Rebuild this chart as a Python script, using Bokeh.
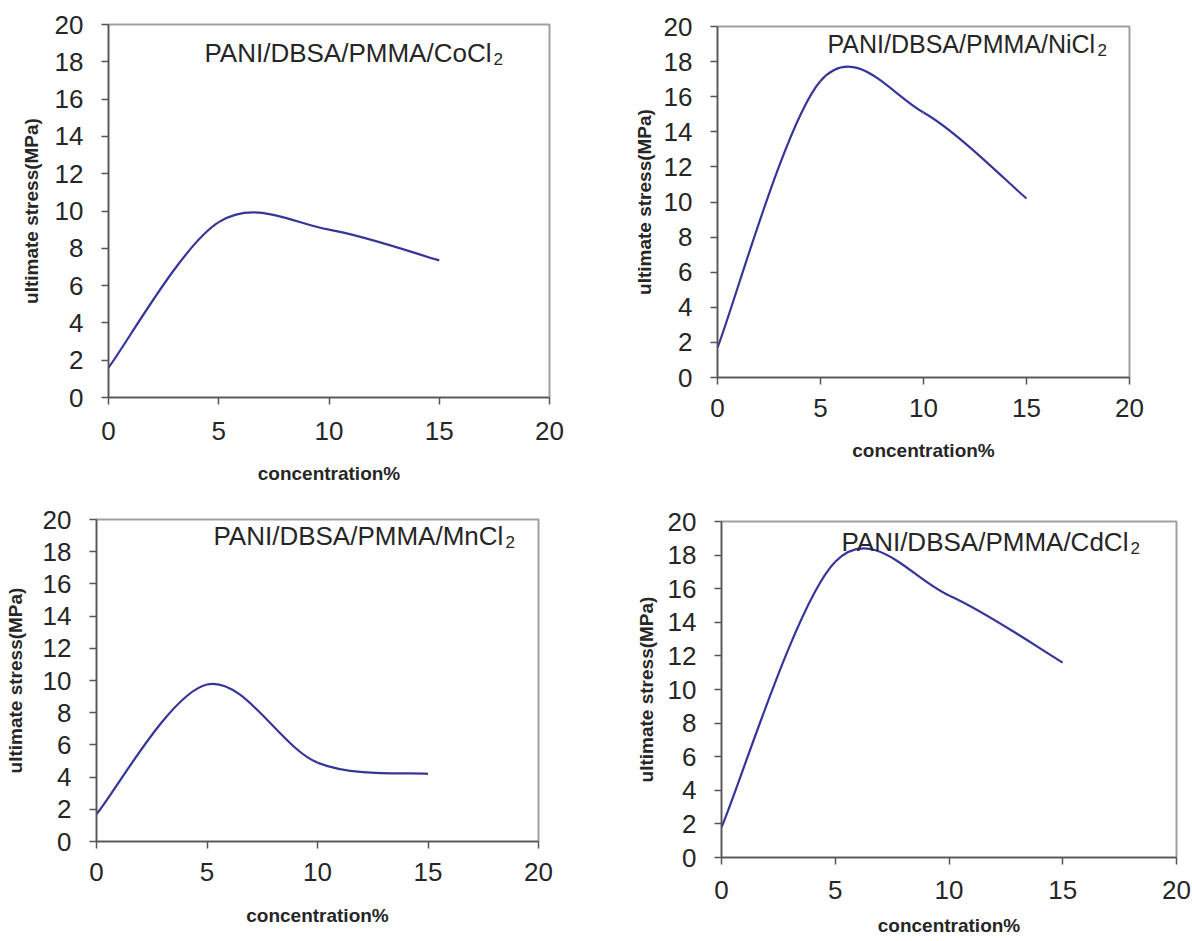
from bokeh.plotting import figure
from bokeh.layouts import column, row
from bokeh.models import Label, FixedTicker, Range1d, Spacer
from bokeh.embed import file_html
from bokeh.resources import INLINE

# ---- data ----
concentration = [0, 5, 10, 15]
stress_CoCl2 = [1.6, 9.4, 9.0, 7.35]
stress_NiCl2 = [1.7, 16.9, 15.1, 10.2]
stress_MnCl2 = [1.7, 9.75, 4.9, 4.2]
stress_CdCl2 = [1.8, 17.6, 15.6, 11.6]
x_ticks = [0, 5, 10, 15, 20]
y_ticks = [0, 2, 4, 6, 8, 10, 12, 14, 16, 18, 20]
titles = ["PANI/DBSA/PMMA/CoCl", "PANI/DBSA/PMMA/NiCl",
          "PANI/DBSA/PMMA/MnCl", "PANI/DBSA/PMMA/CdCl"]
subscript = "2"
x_label = "concentration%"
y_label = "ultimate stress(MPa)"

FONT = "Liberation Sans"
LINE = "#36369a"
TEXT = "#262626"


def smooth_segments(xs, ys):
    """Cubic Bezier segments through the points (Catmull-Rom style smoothing)."""
    px = [xs[0]] + list(xs) + [xs[-1]]
    py = [ys[0]] + list(ys) + [ys[-1]]
    seg = dict(x0=[], y0=[], x1=[], y1=[], cx0=[], cy0=[], cx1=[], cy1=[])
    for i in range(len(xs) - 1):
        a, b, c, d = i, i + 1, i + 2, i + 3
        seg["x0"].append(px[b]); seg["y0"].append(py[b])
        seg["x1"].append(px[c]); seg["y1"].append(py[c])
        seg["cx0"].append(px[b] + (px[c] - px[a]) / 6.0)
        seg["cy0"].append(py[b] + (py[c] - py[a]) / 6.0)
        seg["cx1"].append(px[c] - (px[d] - px[b]) / 6.0)
        seg["cy1"].append(py[c] - (py[d] - py[b]) / 6.0)
    return seg


def make_panel(ys, title, width, height, left, right, top, bottom,
               title_pos, title_size, title_w, xtick_standoff, ylab_standoff,
               xlab_standoff):
    p = figure(width=width, height=height,
               x_range=Range1d(0, 20), y_range=Range1d(0, 20),
               output_backend="svg", toolbar_location=None,
               min_border_left=left, min_border_right=right,
               min_border_top=top, min_border_bottom=bottom,
               background_fill_color="white", border_fill_color="white")
    p.grid.visible = False
    p.outline_line_color = "#a0a0a0"
    p.outline_line_width = 2

    for ax in (p.xaxis, p.yaxis):
        ax.minor_tick_line_color = None
        ax.major_tick_in = 0
        ax.major_tick_out = 7
        ax.axis_line_color = "#555555"
        ax.axis_line_width = 1.5
        ax.major_tick_line_color = "#555555"
        ax.major_tick_line_width = 1.5
        ax.major_label_text_font = FONT
        ax.major_label_text_font_size = "26px"
        ax.major_label_text_color = TEXT
        ax.axis_label_text_font = FONT
        ax.axis_label_text_font_style = "bold"
        ax.axis_label_text_color = TEXT
    p.xaxis.ticker = FixedTicker(ticks=x_ticks)
    p.yaxis.ticker = FixedTicker(ticks=y_ticks)
    p.xaxis.major_label_standoff = xtick_standoff
    p.yaxis.major_label_standoff = 18
    p.xaxis.axis_label = x_label
    p.yaxis.axis_label = y_label
    p.xaxis.axis_label_text_font_size = "19px"
    p.yaxis.axis_label_text_font_size = "19px"
    p.xaxis.axis_label_standoff = xlab_standoff
    p.yaxis.axis_label_standoff = ylab_standoff

    seg = smooth_segments(concentration, ys)
    p.bezier(x0=seg["x0"], y0=seg["y0"], x1=seg["x1"], y1=seg["y1"],
             cx0=seg["cx0"], cy0=seg["cy0"], cx1=seg["cx1"], cy1=seg["cy1"],
             line_color=LINE, line_width=2.2)

    tx, ty = title_pos
    p.add_layout(Label(x=tx, y=ty, text=title, text_font=FONT,
                       text_font_size=title_size, text_color=TEXT,
                       text_align="left", text_baseline="alphabetic"))
    p.add_layout(Label(x=tx, y=ty, x_offset=title_w, y_offset=-6,
                       text=subscript, text_font=FONT,
                       text_font_size="17px", text_color=TEXT,
                       text_align="left", text_baseline="alphabetic"))
    return p


# canvases: p1 (0,0)-(600,492); p2 (600,1)-(1192,491)
#           p3 (1,492)-(599,941); p4 (601,493)-(1191,940)
p1 = make_panel(stress_CoCl2, titles[0], 600, 492, 108, 51, 24, 95,
                (4.35, 18.48), "26px", 289, 17, 10, 20)
p2 = make_panel(stress_NiCl2, titles[1], 592, 490, 117, 63, 25, 114,
                (5.34, 19.03), "25px", 270, 14, 6, 20)
p3 = make_panel(stress_MnCl2, titles[2], 598, 449, 91, 61, 27, 100,
                (5.29, 19.0), "26px", 292, 14, 14, 21)
p4 = make_panel(stress_CdCl2, titles[3], 590, 447, 120, 15, 28, 83,
                (5.27, 18.76), "26px", 289, 16, 8, 13)

top_row = row(p1, column(Spacer(width=592, height=1), p2, spacing=0), spacing=0)
bottom_row = row(Spacer(width=1, height=1), p3, Spacer(width=2, height=1),
                 column(Spacer(width=590, height=1), p4, spacing=0), spacing=0)
layout = column(top_row, bottom_row, spacing=0)

open("out.html", "w").write(file_html(layout, INLINE))
